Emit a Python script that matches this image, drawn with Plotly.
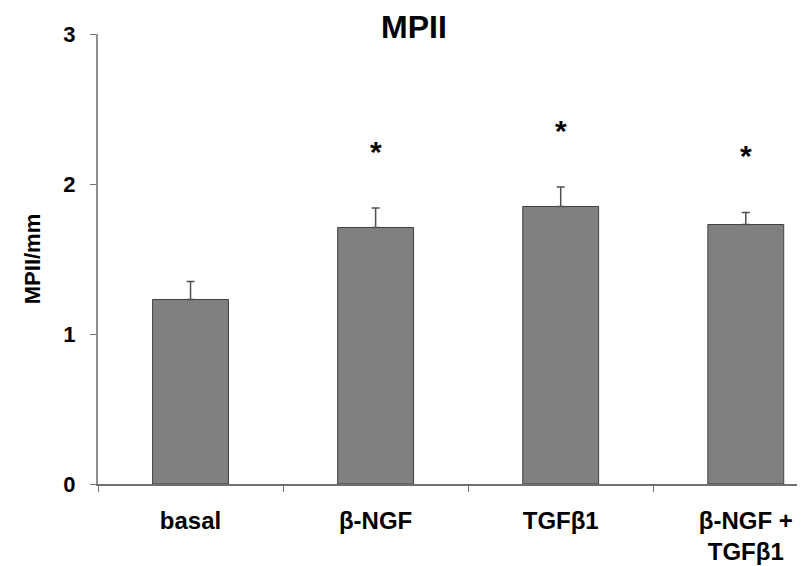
import plotly.graph_objects as go

categories = ["basal", "β-NGF", "TGFβ1", "β-NGF +<br>TGFβ1"]
values = [1.23, 1.71, 1.85, 1.73]
errors = [0.12, 0.13, 0.13, 0.08]
significant = [False, True, True, True]
y_ticks = [0, 1, 2, 3]

FONT = "Arial, Liberation Sans, sans-serif"

# the page body has an 8px default margin, so the figure is drawn 8px smaller
W, H = 797, 558

fig = go.Figure()
fig.add_trace(go.Bar(
    x=categories, y=values,
    width=0.41,
    marker=dict(color="#808080", line=dict(color="#404040", width=1)),
    error_y=dict(type="data", array=errors, symmetric=False, arrayminus=[0]*len(errors),
                 color="#505050", thickness=1.5, width=4),
))

for c, v, e, s in zip(categories, values, errors, significant):
    if s:
        fig.add_annotation(x=c, y=v + e + 0.38, text="<b>*</b>", showarrow=False,
                           font=dict(family=FONT, size=30, color="black"),
                           xref="x", yref="y", yanchor="middle")

fig.update_layout(
    width=W, height=H,
    margin=dict(l=90, r=0, t=26, b=82, autoexpand=False),
    plot_bgcolor="white", paper_bgcolor="white",
    showlegend=False,
    title=dict(text="<b>MPII</b>", x=406 / W, xref="container", xanchor="center",
               y=1 - 19 / H, yref="container", yanchor="middle", automargin=False,
               pad=dict(t=0, b=0, l=0, r=0),
               font=dict(family=FONT, size=32, color="black")),
    font=dict(family=FONT, color="black"),
)
fig.update_xaxes(
    automargin=False,
    range=[-0.5, 3.32], showgrid=False, showline=True, linecolor="#707070", linewidth=2,
    ticks="outside", tickson="boundaries", ticklen=6, tickcolor="#707070", tickwidth=1,
    tickfont=dict(family=FONT, size=24, color="black"),
    ticklabelstandoff=14,
    tickvals=categories, ticktext=["<b>%s</b>" % c for c in categories],
)
fig.update_yaxes(
    automargin=False,
    range=[0, 3], tickvals=y_ticks, ticktext=["<b>%d</b>" % t for t in y_ticks],
    showgrid=False, zeroline=False, showline=True, linecolor="#909090", linewidth=2,
    ticks="outside", ticklen=6, tickcolor="#707070", tickwidth=1,
    tickfont=dict(family=FONT, size=22, color="black"), ticklabelstandoff=10,
    title=dict(text="<b>MPII/mm</b>", font=dict(family=FONT, size=22, color="black"), standoff=17),
)

fig.write_html("out.html")
